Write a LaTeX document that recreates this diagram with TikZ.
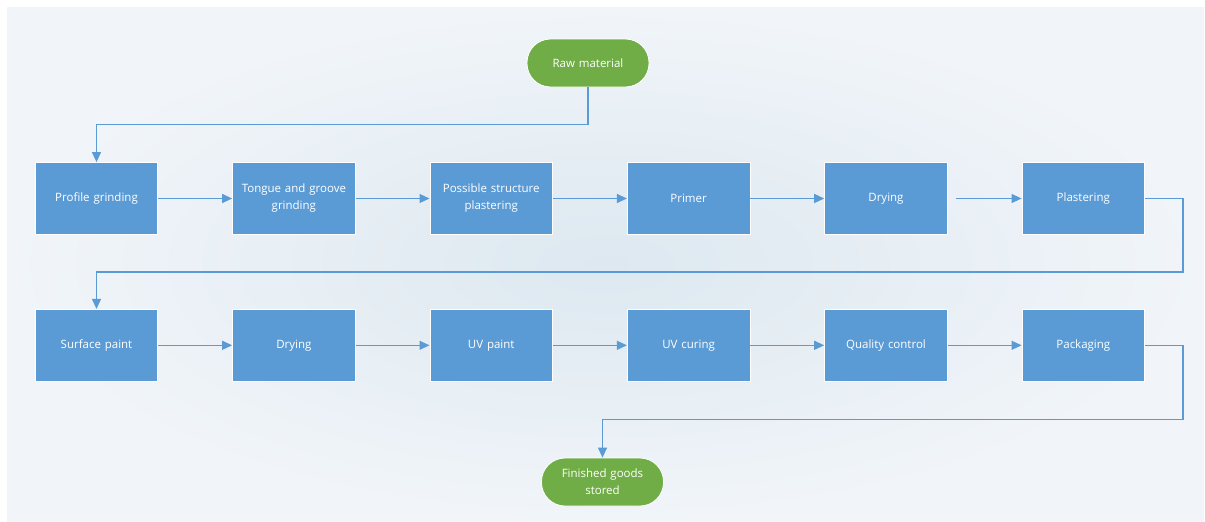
\documentclass[tikz,border=0pt]{standalone}
\usepackage{fontspec}
\setmainfont{Open Sans}
\usetikzlibrary{arrows.meta, positioning}
\definecolor{boxblue}{HTML}{5B9BD5}
\definecolor{termgreen}{HTML}{70AD47}
\definecolor{bgmid}{HTML}{DDE8F0}
\definecolor{bgedge}{HTML}{F1F5F9}

\begin{document}
\begin{tikzpicture}[
  box/.style = {rectangle, draw=white, line width=0.8pt, fill=boxblue, minimum width=122pt, minimum height=72pt, text width=116pt, align=center, text=white, font=\fontsize{11.5}{17}\selectfont},
  term/.style = {rectangle, rounded corners=23.5pt, draw=white, line width=0.8pt, fill=termgreen, minimum width=122pt, minimum height=48pt, text width=110pt, align=center, text=white, font=\fontsize{11.5}{17}\selectfont},
  flow/.style = {draw=boxblue, line width=1.2pt, -{Triangle[length=10pt,width=9pt]}},
  node distance=74pt and 73.9pt
  ]

  % Background
  \useasboundingbox (0,0) rectangle (1205pt,-522pt);
  \shade[inner color=bgmid, outer color=bgedge] (7pt,-7pt) rectangle (1204pt,-521pt);

  % Nodes
  \node[term] (raw) at (588pt,-63pt) {Raw material};
  \node[box] (profile) at (96.5pt,-198.5pt) {Profile grinding};
  \node[box, right=of profile] (tongue) {Tongue and groove\\grinding};
  \node[box, right=of tongue] (structure) {Possible structure\\plastering};
  \node[box, right=of structure] (primer) {Primer};
  \node[box, right=of primer] (drying1) {Drying};
  \node[box, right=of drying1] (plaster) {Plastering};
  \node[box, below=of profile] (surface) {Surface paint};
  \node[box, right=of surface] (drying2) {Drying};
  \node[box, right=of drying2] (uvpaint) {UV paint};
  \node[box, right=of uvpaint] (uvcuring) {UV curing};
  \node[box, right=of uvcuring] (quality) {Quality control};
  \node[box, right=of quality] (packaging) {Packaging};
  \node[term] (stored) at (602.5pt,-482pt) {Finished goods\\stored};

  % Arrows
  \draw[flow] (raw.south) -- ++(0,-37pt) -| (profile.north);
  \draw[flow] (profile) -- (tongue);
  \draw[flow] (tongue) -- (structure);
  \draw[flow] (structure) -- (primer);
  \draw[flow] (primer) -- (drying1);
  \draw[flow, shorten <=8pt] (drying1) -- (plaster);
  \draw[flow] (plaster.east) -- ++(38pt,0) -- ++(0,-73.5pt) -| (surface.north);
  \draw[flow] (surface) -- (drying2);
  \draw[flow] (drying2) -- (uvpaint);
  \draw[flow] (uvpaint) -- (uvcuring);
  \draw[flow] (uvcuring) -- (quality);
  \draw[flow] (quality) -- (packaging);
  \draw[flow] (packaging.east) -- ++(38pt,0) -- ++(0,-74pt) -| (stored.north);

\end{tikzpicture}
\end{document}
